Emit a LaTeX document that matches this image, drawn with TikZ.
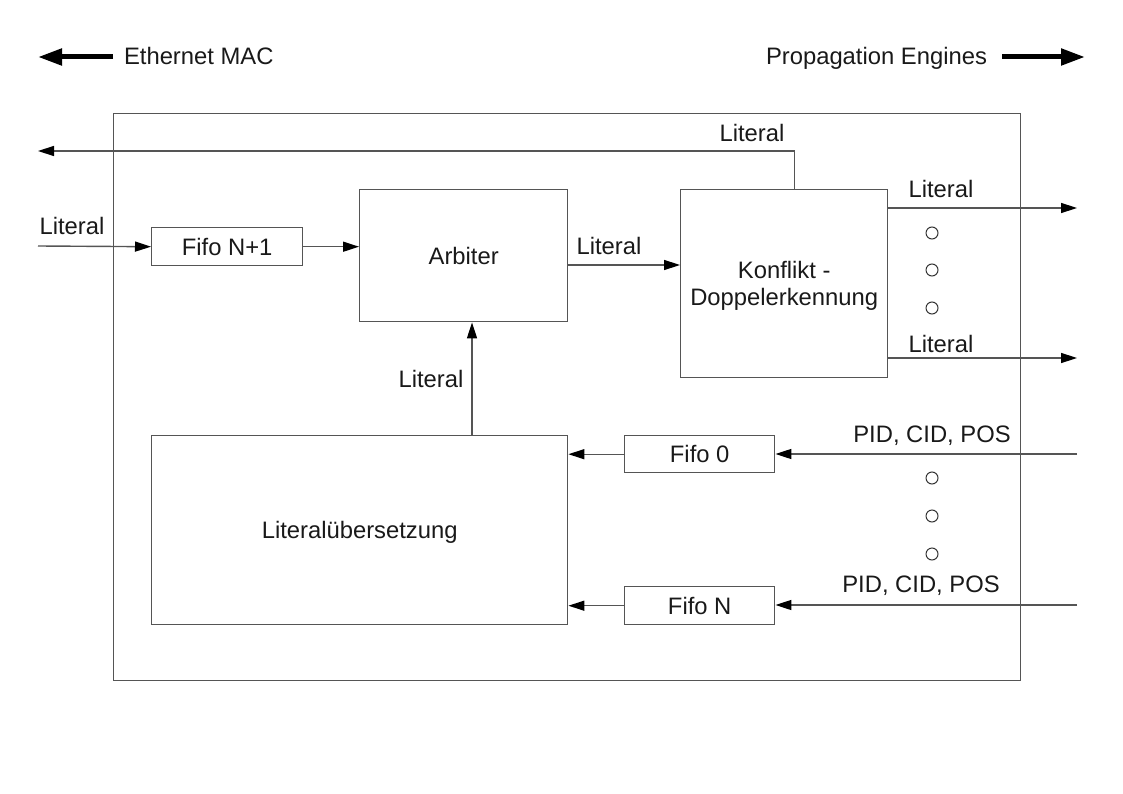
\documentclass[tikz,border=0pt]{standalone}
\usepackage{fontspec}
\setmainfont{Liberation Sans}
\usetikzlibrary{arrows.meta}
\definecolor{lin}{HTML}{555555}
\tikzstyle{blk}=[draw=lin, rectangle, inner sep=0, anchor=north west]
\tikzstyle{arr}=[-{Triangle[length=16pt,width=10pt,black]}]
\tikzstyle{fat}=[line width=5pt, draw=black, -{Triangle[length=24pt,width=16pt]}]
\tikzstyle{dot}=[shape=circle, draw=black!80, line width=1pt, minimum size=12pt, inner sep=0]

\begin{document}
\begin{tikzpicture}[x=1pt, y=-1pt, line width=1.4pt, font=\fontsize{23.8}{27}\selectfont, text=black!90]
\useasboundingbox (0,0) rectangle (1123,794);
% blocks
\node[blk, minimum width=907, minimum height=567] (frame) at (113,113) {};
\node[blk, minimum width=151, minimum height=38] (fifoN1) at (151,227) {Fifo N+1};
\node[blk, minimum width=208, minimum height=132] (arb) at (359,189) {Arbiter};
\node[blk, minimum width=207, minimum height=188, align=center, text depth=1pt] (konf) at (680,189) {Konflikt -\\Doppelerkennung};
\node[blk, minimum width=416, minimum height=189, text depth=1pt] (lit) at (151,435) {Literalübersetzung};
\node[blk, minimum width=150, minimum height=37] (fifo0) at (624,435) {Fifo 0};
\node[blk, minimum width=150, minimum height=38] (fifoN) at (624,586) {Fifo N};
% free ends
\coordinate (macL) at (38,57);  \coordinate (macR) at (113,57);
\coordinate (peL) at (1002,57); \coordinate (peR) at (1085,57);
\coordinate (inL) at (38,246);  \coordinate (fbL) at (38,151);
\coordinate (outA) at (1077,208); \coordinate (outB) at (1077,358);
\coordinate (in0) at (1077,454); \coordinate (inN) at (1077,605);
\coordinate (ab) at (0,265); \coordinate (up) at (472,0);
% top labels
\draw[fat] (macR) -- (macL);
\node[anchor=west] (mac) at (120,56) {Ethernet MAC};
\draw[fat] (peL) -- (peR);
\node[anchor=east] (pe) at (991,58) {Propagation Engines};
% connectors
\begin{scope}[draw=lin]
\draw[arr] (inL) -- (fifoN1.west);
\draw[arr] (fifoN1.east) -- (fifoN1.east -| arb.west);
\draw[arr] (ab -| arb.east) -- (ab -| konf.west);
\draw[arr] ([xshift=10pt]konf.north) |- (fbL);
\draw[arr] (outA -| konf.east) -- (outA);
\draw[arr] (outB -| konf.east) -- (outB);
\draw[arr] (up |- lit.north) -- (up |- arb.south);
\draw[arr] (fifo0.west) -- (fifo0.west -| lit.east);
\draw[arr] (fifoN.west) -- (fifoN.west -| lit.east);
\draw[arr] (in0) -- (in0 -| fifo0.east);
\draw[arr] (inN) -- (inN -| fifoN.east);
\end{scope}
% labels
\node (l0) at (72,226) {Literal};
\node (l1) at (752,133) {Literal};
\node (l2) at (609,246) {Literal};
\node (l3) at (941,189) {Literal};
\node (l4) at (941,344) {Literal};
\node (l5) at (431,379) {Literal};
\node (p0) at (932,436) {PID, CID, POS};
\node (pN) at (921,586) {PID, CID, POS};
% dots
\foreach \y in {233,270,308,478,516,554} {\node[dot] (d\y) at (932,\y) {};}
\end{tikzpicture}
\end{document}
